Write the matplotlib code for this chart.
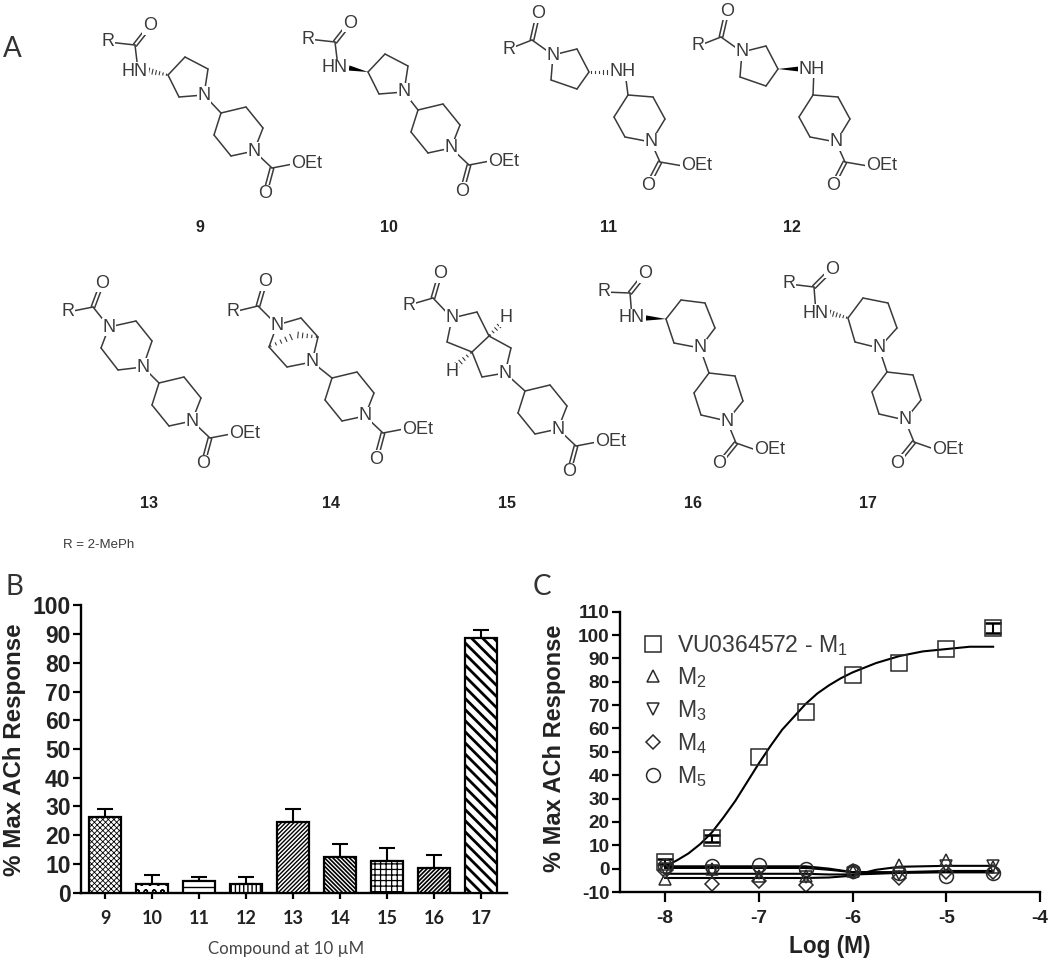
import matplotlib
matplotlib.use("Agg")
import matplotlib.pyplot as plt
from matplotlib.lines import Line2D
from matplotlib.patches import Polygon
import numpy as np

W, H = 1050, 971
INK = "#3a3a3a"
LABEL_FONT = "Lato"

# panel B
COMPOUNDS = ["9", "10", "11", "12", "13", "14", "15", "16", "17"]
RESPONSE = [26.5, 3, 4, 3, 24.5, 12.5, 11, 8.5, 88.5]
RESPONSE_ERR = [2.5, 3, 1.5, 2.5, 4.5, 4.5, 4.5, 4.5, 3]
HATCHES = ["xxxxxx", "oo", "--", "||||", "////////", "\\\\\\\\\\\\\\\\", "+++", "////////", "\\\\\\"]
HATCH_WIDTHS = [0.6, 1.0, 1.0, 1.0, 1.0, 1.2, 0.9, 1.2, 2.0]

# panel C
LOG_M = [-8, -7.5, -7, -6.5, -6, -5.5, -5, -4.5]
M1 = [3, 13, 48, 67, 83, 88, 94, 103]
ERR_X = [-8, -7.5, -4.5]
ERR_Y = [3, 13, 103]
ERR_E = [1, 1.5, 2]
M2 = [-4.5, 0, -3, -3, -1, 1.5, 3.5, 0.5]
M3 = [0, -1, -2, -3.5, -2, -2.5, 1, 1]
M4 = [-1, -6.5, -5.5, -7, -1, -4, -1.5, -1.5]
M5 = [1, 1, 1.5, 0, -1, -2, -3, -2]
M1_FIT_X = [-8, -7.875, -7.75, -7.625, -7.5, -7.375, -7.25, -7.125, -7, -6.875, -6.75, -6.625, -6.5,
            -6.375, -6.25, -6.125, -6, -5.875, -5.75, -5.625, -5.5, -5.25, -5, -4.75, -4.5]
M1_FIT_Y = [1, 3.5, 6.5, 10.5, 15.5, 22, 29, 37, 45, 52.5, 59.5, 65, 70.5,
            75, 78.5, 81.5, 84, 86, 88, 89.5, 91, 93, 94, 95, 95]
FIT_X = [-8, -6.5, -6.25, -6, -5.75, -5.5, -5, -4.5]
M2_FIT = [-4, -4, -3.8, -3, -0.5, 0.8, 1.2, 1.2]
M3_FIT = [1, 1, 0, -1.5, -1.5, -1.5, -1, -1]
M4_FIT = [-2.2, -2.2, -2.5, -2.5, -2.2, -1.8, -1.3, -1.2]
M5_FIT = [0.3, 0.3, -0.5, -1.5, -1.7, -1.7, -1.6, -1.6]

# structures in panel A, as offsets in image pixels
TAIL_A = dict(ring=[(0, 0), (25, -6), (42, 15), (33, 38), (10, 43), (-7, 22)],
              carb=(51, 55), oet=(70, 51), oxo=(44, 81))
TAIL_B = dict(ring=[(0, 0), (25, 2), (37, 24), (23, 47), (-3, 42), (-14, 22)],
              carb=(32, 67), oet=(53, 71), oxo=(20, 90))
TAIL_C = dict(ring=[(0, 0), (26, 3), (34, 28), (18, 48), (-8, 42), (-15, 20)],
              carb=(27, 70), oet=(45, 77), oxo=(10, 91))

plt.rcParams["font.family"] = ["Liberation Sans", "DejaVu Sans"]
plt.rcParams["mathtext.default"] = "regular"
plt.rcParams["axes.unicode_minus"] = False

fig = plt.figure(figsize=(W / 100, H / 100), dpi=100, facecolor="white")
sketch = fig.add_axes([0, 0, 1, 1])
sketch.set_xlim(0, W)
sketch.set_ylim(H, 0)
sketch.axis("off")


def px_axes(left, top, right, bottom):
    return fig.add_axes([left / W, 1 - bottom / H, (right - left) / W, (bottom - top) / H])


def bond(a, b):
    sketch.plot([a[0], b[0]], [a[1], b[1]], color=INK, lw=1.1, zorder=1, solid_capstyle="round")


def double_bond(a, b, gap=1.8):
    d = np.array(b, float) - np.array(a, float)
    n = np.array([-d[1], d[0]]) / np.hypot(*d) * gap
    bond(a + n, b + n)
    bond(a - n, b - n)


def atom(xy, label, ha="center"):
    sketch.text(xy[0], xy[1], label, fontsize=13, color=INK, ha=ha, va="center", zorder=3,
                bbox=dict(fc="white", ec="none", pad=0.6))


def hashed(a, b, n=6):
    a, b = np.array(a, float), np.array(b, float)
    d = b - a
    nrm = np.array([-d[1], d[0]]) / np.hypot(*d)
    for t in np.linspace(0.08, 1, n):
        mid = a + d * t
        half = 0.4 + 2.4 * t
        sketch.plot(*zip(mid - nrm * half, mid + nrm * half), color=INK, lw=0.8, zorder=2)


def wedge(a, b):
    a, b = np.array(a, float), np.array(b, float)
    d = b - a
    nrm = np.array([-d[1], d[0]]) / np.hypot(*d) * 2.6
    sketch.add_patch(Polygon([a, b + nrm, b - nrm], fc="black", ec="none", zorder=2))


def tail(c4, t):
    c4 = np.array(c4, float)
    pts = [c4 + p for p in t["ring"]]
    for i in range(6):
        bond(pts[i], pts[(i + 1) % 6])
    carb, oxo = c4 + t["carb"], c4 + t["oxo"]
    bond(pts[3], carb)
    bond(carb, c4 + t["oet"] + (2, 0))
    double_bond(carb, oxo + (carb - oxo) * 0.2)
    atom(pts[3], "N")
    atom(c4 + t["oet"], "OEt", ha="left")
    atom(oxo, "O")


def acyl(r, c, o, n):
    r, c, o, n = [np.array(p, float) for p in (r, c, o, n)]
    bond(r, c)
    bond(c, n)
    double_bond(c, o + (c - o) * 0.2)
    atom(r, "R")
    atom(o, "O")


def aminopyrrolidine(dx, dy, c4, solid, t=TAIL_A):
    s = np.array([dx, dy], float)
    n, c3 = s + (204, 95), s + (168, 75)
    ring = [c3, s + (185, 57), s + (208, 69), n, s + (179, 97)]
    for i in range(5):
        bond(ring[i], ring[(i + 1) % 5])
    acyl(s + (108, 42), s + (135, 45), s + (150, 26), s + (138, 70))
    (wedge if solid else hashed)(c3, s + (149, 71))
    atom(s + (135, 71), "HN")
    atom(n, "N")
    bond(n, c4)
    tail(c4, t)


def aminolinked(dx, dy, c4, solid):
    s = np.array([dx, dy], float)
    n, c3, nh = s + (553, 55), s + (589, 72), s + (623, 72)
    ring = [n, s + (577, 49), c3, s + (577, 89), s + (551, 80)]
    for i in range(5):
        bond(ring[i], ring[(i + 1) % 5])
    acyl(s + (509, 49), s + (532, 40), s + (538, 14), n)
    (wedge if solid else hashed)(c3, s + (611, 72))
    atom(n, "N")
    atom(nh, "NH")
    bond(nh + (2, 0), c4)
    tail(c4, TAIL_B)


def piperidine_amide(r, c, o, hn, ring, c4, solid):
    pts = [np.array(p, float) for p in ring]
    for i in range(6):
        bond(pts[i], pts[(i + 1) % 6])
    acyl(r, c, o, hn)
    (wedge if solid else hashed)(pts[0], np.array(hn) + (14, 0))
    atom(hn, "HN")
    atom(pts[4], "N")
    bond(pts[4], c4)
    tail(c4, TAIL_C)


aminopyrrolidine(0, 0, (221, 113), False)
aminopyrrolidine(200, -3, (418, 110), True)
aminolinked(0, 0, (628, 95), False)
aminolinked(189, -3, (813, 95), True)

# 13, piperazine
n1, n2 = np.array((109, 327.0)), np.array((143, 367.0))
for a, b in [(n1, (136, 321)), ((136, 321), (152, 341)), ((152, 341), n2), (n2, (118, 370)),
             ((118, 370), (101, 348)), ((101, 348), n1)]:
    bond(a, b)
acyl((68, 312), (93, 307), (102, 283), n1)
atom(n1, "N")
atom(n2, "N")
bond(n2, (159, 383))
tail((159, 383), TAIL_A)

# 14, bridged piperazine
n1, n2 = np.array((277, 325.0)), np.array((312, 362.0))
for a, b in [(n1, (301, 318)), ((301, 318), (318, 337)), ((318, 337), n2), (n2, (287, 367)),
             ((287, 367), (269, 347)), ((269, 347), n1)]:
    bond(a, b)
hashed((269, 347), (291, 337), n=5)
hashed((318, 337), (298, 335), n=5)
acyl((233, 312), (258, 306), (265, 282), n1)
atom(n1, "N")
atom(n2, "N")
bond(n2, (332, 378))
tail((332, 378), TAIL_A)

# 15, fused pyrrolidines
n1, n2 = np.array((452, 318.0)), np.array((505, 373.0))
a3, a6 = (489, 336), (472, 352)
for a, b in [(n1, (477, 312)), ((477, 312), a3), (a3, a6), (a6, (447, 342)), ((447, 342), n1),
             (a3, (511, 348)), ((511, 348), n2), (n2, (482, 377)), ((482, 377), a6)]:
    bond(a, b)
hashed(a3, (502, 323), n=5)
hashed(a6, (457, 365), n=5)
acyl((409, 305), (433, 298), (440, 274), n1)
atom(n1, "N")
atom(n2, "N")
atom((506, 318), "H")
atom((452, 372), "H")
bond(n2, (525, 391))
tail((525, 391), TAIL_A)

# 16 and 17
piperidine_amide((604, 292), (630, 293), (645, 274), (632, 318),
                 [(666, 319), (681, 300), (705, 303), (715, 328), (700, 348), (674, 343)],
                 (709, 373), True)
piperidine_amide((789, 284), (814, 287), (832, 269), (816, 313),
                 [(848, 318), (863, 298), (888, 303), (897, 328), (879, 348), (855, 342)],
                 (887, 372), False)

for label, x, y in [("9", 200, 227), ("10", 389, 227), ("11", 609, 227), ("12", 792, 227),
                    ("13", 149, 503), ("14", 331, 503), ("15", 507, 503), ("16", 693, 503),
                    ("17", 868, 503)]:
    sketch.text(x, y, label, fontsize=11.5, fontweight="bold", color="#222222", ha="center", va="center")

sketch.text(63, 545, "R = 2-MePh", fontsize=9.5, color=INK, ha="left", va="center")
for label, x, y in [("A", 3, 49), ("B", 5, 587), ("C", 533, 587)]:
    sketch.text(x, y, label, fontsize=20, family=LABEL_FONT, color="#333333", ha="left", va="center")
sketch.text(286, 949, "Compound at 10 µM", fontsize=12.2, family=LABEL_FONT, color="#444444", ha="center", va="center")
sketch.text(15, 750, "% Max ACh Response", fontsize=17.4, fontweight="bold", color="#222222",
            rotation=90, ha="center", va="center")
sketch.text(555, 748, "% Max ACh Response", fontsize=17, fontweight="bold", color="#222222",
            rotation=90, ha="center", va="center")
sketch.text(830, 947, "Log (M)", fontsize=16.3, fontweight="bold", color="#222222", ha="center", va="center")

# panel B
ax_b = px_axes(81, 605.3, 506.7, 892.7)
pos = np.arange(len(COMPOUNDS))
bars = ax_b.bar(pos, RESPONSE, width=0.69, facecolor="white", edgecolor="black", linewidth=1.6, zorder=3)
for bar, h, hw in zip(bars, HATCHES, HATCH_WIDTHS):
    bar.set_hatch(h)
    if hasattr(bar, "set_hatch_linewidth"):
        bar.set_hatch_linewidth(hw)
ax_b.errorbar(pos, RESPONSE, yerr=[np.zeros(len(pos)), RESPONSE_ERR], fmt="none", ecolor="black",
              elinewidth=1.5, capsize=6, capthick=1.5, zorder=2)
ax_b.set_xlim(-0.51, 8.55)
ax_b.set_ylim(0, 100)
ax_b.set_yticks(np.arange(0, 101, 10))
ax_b.set_xticks(pos)
ax_b.set_xticklabels(COMPOUNDS, family=LABEL_FONT, fontweight="bold", fontsize=13, color="#222222")
ax_b.tick_params(axis="y", length=5.5, width=1.6, labelsize=16.5, pad=2, labelcolor="#222222")
ax_b.tick_params(axis="x", length=4.5, width=1.6, pad=8)
for lab in ax_b.get_yticklabels():
    lab.set_fontweight("bold")

# panel C
ax_c = px_axes(620, 611.7, 1040, 892)
ax_c.plot(M1_FIT_X, M1_FIT_Y, color="black", lw=1.5)
for fit in (M2_FIT, M3_FIT, M4_FIT, M5_FIT):
    ax_c.plot(FIT_X, fit, color="black", lw=1.5)
mstyle = dict(ls="none", mfc="none", mec="#2a2a2a", mew=1.1)
ax_c.errorbar(ERR_X, ERR_Y, yerr=ERR_E, fmt="none", ecolor="black", elinewidth=1.5, capsize=5.5, capthick=1.8)
ax_c.plot(LOG_M, M1, marker="s", ms=11, **mstyle)
ax_c.plot(LOG_M, M2, marker="^", ms=9, **mstyle)
ax_c.plot(LOG_M, M3, marker="v", ms=9, **mstyle)
ax_c.plot(LOG_M, M4, marker="D", ms=7.5, **mstyle)
ax_c.plot(LOG_M, M5, marker="o", ms=10, **mstyle)
ax_c.set_xlim(-8.48, -4)
ax_c.set_ylim(-10, 110)
ax_c.set_yticks(np.arange(-10, 111, 10))
ax_c.set_xticks([-8, -7, -6, -5, -4])
ax_c.tick_params(axis="y", length=5.5, width=1.6, labelsize=13.7, pad=2, labelcolor="#222222")
ax_c.tick_params(axis="x", length=7, width=1.6, labelsize=13.7, pad=6, labelcolor="#222222")
for lab in ax_c.get_yticklabels() + ax_c.get_xticklabels():
    lab.set_fontweight("bold")

handles = [Line2D([], [], marker=m, ms=s, **mstyle)
           for m, s in [("s", 11), ("^", 9), ("v", 9), ("D", 7.5), ("o", 10)]]
labels = ["VU0364572 - M$_1$", "M$_2$", "M$_3$", "M$_4$", "M$_5$"]
ax_c.legend(handles, labels, loc="upper left", bbox_to_anchor=(0.05, 0.925), frameon=False, fontsize=16.6,
            labelspacing=0.34, handlelength=1.0, handletextpad=0.55, borderpad=0, borderaxespad=0,
            labelcolor=INK)

for ax in (ax_b, ax_c):
    ax.patch.set_alpha(0)
    ax.spines["top"].set_visible(False)
    ax.spines["right"].set_visible(False)
    ax.spines["left"].set_linewidth(1.7)
    ax.spines["bottom"].set_linewidth(1.7)

fig.savefig("out.png", dpi=100)
